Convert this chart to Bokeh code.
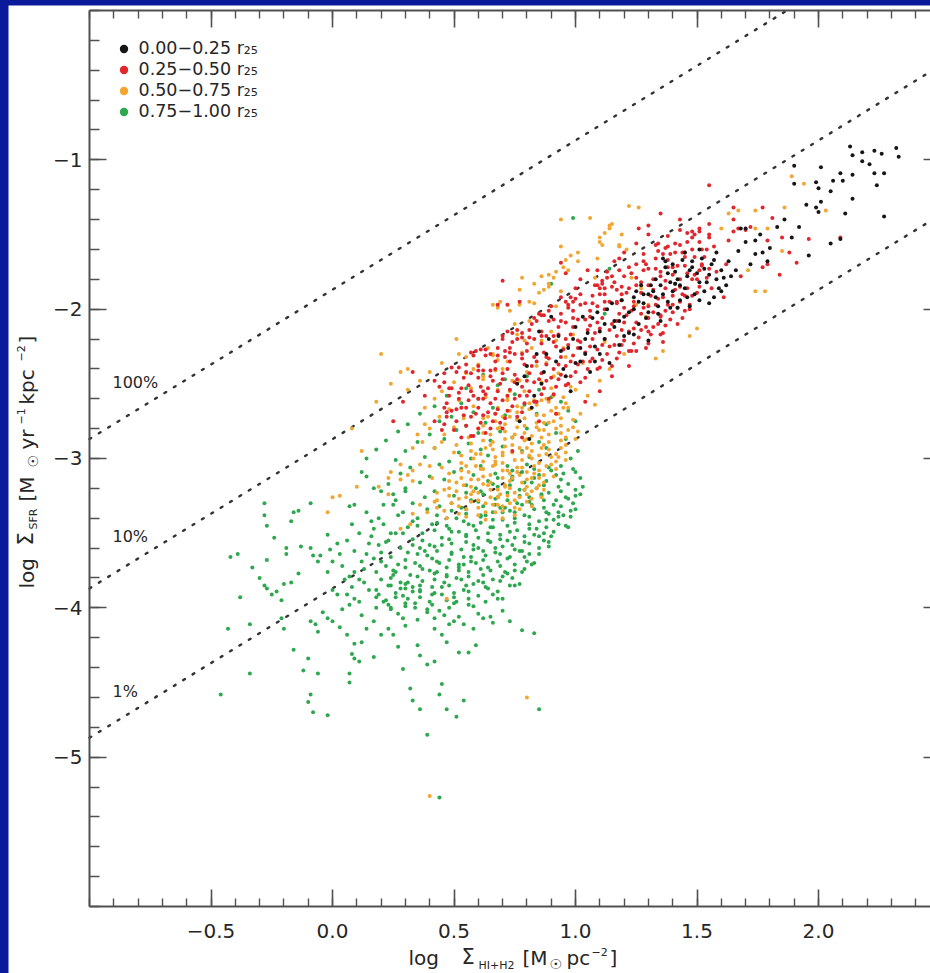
import math
from bokeh.plotting import figure
from bokeh.models import Range1d, LinearAxis, FixedTicker, Label, Legend, LegendItem
from bokeh.layouts import column
from bokeh.embed import file_html
from bokeh.resources import INLINE

# ---------------- data ----------------
bin_labels = ["0.00\u22120.25 r\u2082\u2085", "0.25\u22120.50 r\u2082\u2085",
              "0.50\u22120.75 r\u2082\u2085", "0.75\u22121.00 r\u2082\u2085"]
bin_colors = ["#161616", "#e2262c", "#f2a630", "#2ea84e"]

x_tick_values = [-0.5, 0.0, 0.5, 1.0, 1.5, 2.0]
x_tick_labels = ["\u22120.5", "0.0", "0.5", "1.0", "1.5", "2.0"]
y_tick_values = [-5, -4, -3, -2, -1]
y_tick_labels = ["\u22125", "\u22124", "\u22123", "\u22122", "\u22121"]

sfe_levels = [1.0, 0.1, 0.01]
sfe_names = ["100%", "10%", "1%"]
sfe_offset = -1.87          # log SFR at log gas = 0 for 100 %

black_pts = [
(1.90,-1.04),(2.01,-1.05),(2.13,-0.91),(2.14,-0.97),(2.18,-0.95),(2.23,-0.94),(2.26,-0.96),(2.21,-1.03),(2.32,-0.92),(2.33,-0.98),
(2.09,-1.09),(2.10,-1.14),(2.14,-1.10),(2.23,-1.09),(2.27,-1.09),(2.24,-1.17),(1.99,-1.15),(2.00,-1.19),(2.05,-1.21),(1.90,-1.16),
(2.01,-1.28),(1.99,-1.32),(2.00,-1.35),(2.14,-1.26),(2.11,-1.36),(2.27,-1.38),(1.92,-1.45),(1.89,-1.52),(2.05,-1.56),(2.09,-1.53),
(1.96,-1.64),(1.70,-1.46),(1.74,-1.63),(1.77,-1.62),(1.80,-1.59),(1.79,-1.68),(1.74,-1.54),(1.67,-1.61),(1.68,-1.46),
(1.36,-1.66),(1.40,-1.70),(1.44,-1.67),(1.48,-1.72),(1.52,-1.66),(1.56,-1.70),(1.60,-1.74),(1.38,-1.76),(1.42,-1.80),(1.46,-1.78),
(1.50,-1.76),(1.54,-1.82),(1.58,-1.80),(1.62,-1.84),(1.35,-1.84),(1.40,-1.88),(1.45,-1.86),(1.49,-1.90),(1.53,-1.88),(1.57,-1.92),
(1.33,-1.92),(1.38,-1.95),(1.43,-1.94),(1.47,-1.98),(1.63,-1.68),(1.58,-1.62),(1.51,-1.60),(1.45,-1.62),
(0.88,-2.30),(0.93,-2.18),(0.97,-2.26),(1.00,-2.12),(1.04,-2.20),(1.07,-2.06),(1.10,-2.15),(1.13,-2.00),(1.16,-2.08),(1.19,-1.94),
(1.22,-2.02),(1.25,-1.88),(1.28,-1.96),(1.31,-1.84),(1.02,-2.35),(1.06,-2.42),(1.10,-2.30),(1.14,-2.36),(1.18,-2.24),(1.22,-2.16),
(0.95,-2.40),(0.90,-2.05),(0.85,-2.15),(1.26,-2.10),(1.30,-2.02),(1.34,-1.98),(0.80,-2.38),(0.76,-2.50),(0.83,-2.58),(0.98,-2.55),
(1.02,-2.26),(1.08,-2.35),(1.24,-2.17),(1.30,-2.21),(1.35,-2.08),(1.39,-1.99),(1.41,-1.83),(1.30,-1.90),(0.77,-2.75),(0.81,-2.87),(0.82,-2.66),
(1.37,-1.72),(1.41,-1.75),(1.47,-1.74),(1.51,-1.82),(1.55,-1.77),(1.59,-1.86),(1.61,-1.79),(1.43,-1.84),(1.39,-1.82),(1.36,-1.90),
(1.46,-1.92),(1.51,-1.94),(1.55,-1.96),(1.42,-1.99),(1.32,-1.88),(1.28,-1.90),(1.26,-1.95),(1.34,-2.03),(1.20,-2.05),(1.16,-2.12),
(1.12,-2.20),(1.08,-2.25),(1.04,-2.30),(1.00,-2.36),(0.96,-2.45),(0.92,-2.35),(0.87,-2.42),(1.12,-2.10),(1.20,-2.18),(1.24,-2.00),
(1.29,-2.06),(1.70,-1.55),(1.72,-1.70),(1.66,-1.74),(1.76,-1.50),(1.83,-1.45),(1.86,-1.40),(1.95,-1.30),(2.06,-1.14),(2.18,-1.01),
(1.05,-2.16),(1.09,-2.02),(1.15,-1.96),(1.18,-2.08),(1.24,-1.92),(1.27,-1.84),(1.33,-1.80),(1.37,-1.68),(1.48,-1.68),(1.53,-1.73),
(1.57,-1.67),(1.60,-1.88),(1.64,-1.78),(0.94,-2.28),(0.99,-2.20),(1.03,-2.05),(0.89,-2.20),(0.84,-2.30),(0.79,-2.45),(0.86,-2.50),
]

red_pts = [
(0.45,-2.81),(0.46,-2.66),(0.44,-2.52),(0.47,-2.72),(0.48,-2.58),(0.46,-2.43),(0.50,-2.81),(0.51,-2.67),(0.49,-2.53),(0.52,-2.39),
(0.53,-2.86),(0.54,-2.71),(0.52,-2.56),(0.55,-2.42),(0.55,-2.78),(0.56,-2.61),(0.54,-2.46),(0.57,-2.29),(0.58,-2.85),(0.59,-2.70),
(0.57,-2.55),(0.60,-2.41),(0.59,-2.28),(0.61,-2.76),(0.62,-2.60),(0.60,-2.46),(0.63,-2.31),(0.63,-2.83),(0.64,-2.69),(0.62,-2.55),
(0.65,-2.41),(0.61,-2.27),(0.66,-2.75),(0.67,-2.60),(0.65,-2.45),(0.68,-2.31),(0.68,-2.67),(0.69,-2.50),(0.67,-2.35),(0.70,-2.18),
(0.71,-2.73),(0.72,-2.58),(0.70,-2.43),(0.73,-2.29),(0.72,-2.15),(0.74,-2.65),(0.75,-2.49),(0.73,-2.35),(0.76,-2.20),(0.76,-2.72),
(0.77,-2.58),(0.75,-2.44),(0.78,-2.30),(0.74,-2.16),(0.79,-2.63),(0.80,-2.48),(0.78,-2.33),(0.81,-2.19),(0.81,-2.55),(0.82,-2.38),
(0.80,-2.23),(0.83,-2.06),(0.84,-2.62),(0.85,-2.47),(0.83,-2.32),(0.86,-2.18),(0.85,-2.03),(0.87,-2.53),(0.88,-2.37),(0.86,-2.23),
(0.89,-2.08),(0.89,-2.60),(0.90,-2.46),(0.88,-2.32),(0.91,-2.18),(0.87,-2.04),(0.92,-2.52),(0.93,-2.37),(0.91,-2.22),(0.94,-2.08),
(0.94,-2.44),(0.95,-2.27),(0.93,-2.12),(0.96,-1.95),(0.97,-2.50),(0.98,-2.35),(0.96,-2.20),(0.99,-2.06),(0.98,-1.92),(1.00,-2.42),
(1.01,-2.26),(0.99,-2.12),(1.02,-1.97),(1.02,-2.49),(1.03,-2.35),(1.01,-2.21),(1.04,-2.07),(1.00,-1.93),(1.05,-2.40),(1.06,-2.25),
(1.06,-2.11),(1.07,-1.96),(1.07,-2.33),(1.08,-2.16),(1.06,-2.01),(1.09,-1.84),(1.10,-2.39),(1.11,-2.24),(1.09,-2.09),(1.12,-1.95),
(1.11,-1.81),(1.13,-2.30),(1.14,-2.14),(1.12,-2.00),(1.15,-1.85),(1.15,-2.38),(1.16,-2.24),(1.17,-2.08),(1.17,-1.96),(1.16,-1.82),
(1.18,-2.29),(1.19,-2.14),(1.20,-1.99),(1.19,-1.85),(1.20,-2.21),(1.21,-2.04),(1.21,-1.89),(1.22,-1.72),(1.23,-2.28),(1.24,-2.13),
(1.24,-1.98),(1.25,-1.84),(1.25,-1.70),(1.26,-2.19),(1.27,-2.03),(1.27,-1.89),(1.28,-1.74),(1.29,-2.26),(1.29,-2.12),(1.30,-1.98),
(1.30,-1.84),(1.29,-1.70),(1.31,-2.17),(1.32,-2.02),(1.32,-1.87),(1.33,-1.73),(1.34,-2.10),(1.34,-1.93),(1.35,-1.78),(1.34,-1.61),
(1.36,-2.16),(1.37,-2.01),(1.37,-1.86),(1.38,-1.72),(1.38,-1.58),(1.39,-2.07),(1.40,-1.91),(1.40,-1.77),(1.41,-1.62),(1.42,-1.99),
(1.43,-1.85),(1.42,-1.71),(1.43,-1.57),(1.44,-2.06),(1.45,-1.91),(1.46,-1.76),(1.45,-1.62),(1.47,-1.97),(1.48,-1.80),(1.49,-1.65),
(1.48,-1.48),(1.50,-1.89),(1.51,-1.74),(1.52,-1.60),(1.51,-1.46),(1.54,-1.79),(1.53,-1.65),(1.55,-1.50),
(0.46,-2.77),(0.47,-2.63),(0.46,-2.49),(0.49,-2.68),(0.48,-2.53),(0.49,-2.39),(0.51,-2.75),(0.52,-2.60),(0.51,-2.42),(0.55,-2.66),
(0.56,-2.51),(0.55,-2.37),(0.57,-2.85),(0.57,-2.72),(0.58,-2.58),(0.57,-2.43),(0.58,-2.31),(0.60,-2.80),(0.60,-2.66),(0.61,-2.52),
(0.60,-2.38),(0.62,-2.71),(0.63,-2.57),(0.62,-2.41),(0.63,-2.27),(0.65,-2.80),(0.65,-2.63),(0.66,-2.48),(0.65,-2.30),(0.67,-2.70),
(0.68,-2.55),(0.67,-2.40),(0.68,-2.26),(0.69,-2.76),(0.70,-2.61),(0.70,-2.47),(0.71,-2.32),(0.70,-2.20),(0.72,-2.68),(0.73,-2.54),
(0.72,-2.40),(0.73,-2.26),(0.75,-2.60),(0.76,-2.47),(0.75,-2.30),(0.76,-2.14),(0.78,-2.69),(0.78,-2.52),(0.79,-2.37),(0.78,-2.19),
(0.80,-2.58),(0.81,-2.43),(0.80,-2.28),(0.81,-2.14),(0.83,-2.62),(0.83,-2.49),(0.84,-2.35),(0.83,-2.20),(0.84,-2.08),(0.86,-2.57),
(0.86,-2.43),(0.87,-2.29),(0.86,-2.15),(0.88,-2.48),(0.89,-2.33),(0.88,-2.18),(0.89,-2.01),(0.91,-2.57),(0.91,-2.40),(0.92,-2.25),
(0.91,-2.07),(0.93,-2.47),(0.94,-2.32),(0.93,-2.17),(0.94,-2.03),(0.96,-2.51),(0.96,-2.38),(0.97,-2.24),(0.96,-2.09),(0.97,-1.97),
(0.98,-2.45),(0.99,-2.31),(0.98,-2.17),(0.99,-2.01),(1.01,-2.37),(1.02,-2.22),(1.01,-2.07),(1.02,-1.90),(1.04,-2.46),(1.04,-2.29),
(1.05,-2.14),(1.04,-1.96),(1.06,-2.35),(1.07,-2.20),(1.06,-2.05),(1.07,-1.91),(1.09,-2.40),(1.09,-2.27),(1.10,-2.13),(1.09,-1.98),
(1.10,-1.86),(1.11,-2.34),(1.12,-2.20),(1.11,-2.06),(1.12,-1.90),(1.14,-2.25),(1.15,-2.10),(1.14,-1.95),(1.15,-1.78),(1.17,-2.33),
(1.17,-2.18),(1.18,-2.03),(1.17,-1.87),(1.19,-2.24),(1.20,-2.09),(1.19,-1.94),(1.20,-1.78),(1.22,-2.28),(1.22,-2.15),(1.23,-2.01),
(1.22,-1.86),(1.23,-1.76),(1.24,-2.23),(1.25,-2.09),(1.24,-1.95),(1.25,-1.79),(1.27,-2.14),(1.28,-1.99),(1.27,-1.82),(1.28,-1.68),
(1.30,-2.23),(1.30,-2.06),(1.31,-1.91),(1.30,-1.73),(1.32,-2.12),(1.33,-1.97),(1.32,-1.80),(1.33,-1.66),(1.35,-2.17),(1.35,-2.04),
(1.36,-1.92),(1.35,-1.75),(1.36,-1.63),(1.37,-2.11),(1.38,-1.97),(1.37,-1.81),(1.38,-1.67),(1.40,-2.02),(1.41,-1.87),(1.40,-1.72),
(1.41,-1.56),(1.43,-1.95),(1.43,-1.80),(1.44,-1.62),(1.45,-2.01),(1.46,-1.86),(1.45,-1.71),(1.46,-1.55),(1.48,-1.91),(1.49,-1.77),
(1.48,-1.60),(1.49,-1.50),(1.51,-1.85),(1.52,-1.71),(1.51,-1.55),(1.55,-1.73),(1.54,-1.60),
(0.47,-2.69),(0.53,-2.66),(0.60,-2.60),(0.64,-2.53),(0.53,-2.53),(0.33,-2.42),(0.42,-2.75),(0.25,-2.75),(0.70,-1.81),(1.09,-1.74),(1.11,-1.83),
(1.12,-1.86),(1.10,-1.90),(1.13,-1.79),(1.18,-1.66),(1.18,-1.74),(1.19,-1.90),(1.17,-1.95),(0.94,-1.69),(0.96,-1.76),(0.68,-1.97),(0.72,-1.97),
(0.77,-1.95),(0.97,-1.99),(0.99,-1.95),(1.55,-1.17),(1.35,-1.36),(1.43,-1.40),(1.65,-1.32),(1.77,-1.32),(1.65,-1.40),(1.67,-1.46),(1.70,-1.47),
(1.72,-1.45),(1.81,-1.39),(1.79,-1.54),(1.85,-1.52),(1.88,-1.62),(1.91,-1.69),(1.96,-1.53),(2.09,-1.52),(1.77,-1.72),(1.79,-1.70),(1.84,-1.77),
(1.61,-1.92),(1.26,-1.46),(1.30,-1.44),(1.43,-1.47),(1.48,-1.52),(1.51,-1.48),(1.55,-1.43),(1.55,-1.52),(1.57,-1.58),(1.63,-1.54),(1.65,-1.48),
(1.34,-1.56),(1.37,-1.59),(1.39,-1.63),(0.29,-2.62),(0.38,-2.58),(0.42,-2.48),(0.70,-2.80),(0.78,-2.86),(0.85,-2.75),(0.92,-2.70),(0.74,-2.95),
(1.45,-1.65),(1.52,-1.70),(1.58,-1.75),(1.50,-1.80),(1.56,-1.86),(1.62,-1.70),(1.68,-1.78),(1.44,-1.90),(1.40,-1.97),(1.47,-2.00),(1.35,-2.05),
(1.42,-2.10),(1.30,-2.15),(1.36,-2.22),(1.25,-2.28),(1.22,-2.38),(1.15,-2.45),(1.10,-2.55),(1.04,-2.62),
(1.30,-1.50),(1.38,-1.51),(1.46,-1.49),(1.25,-1.56),(1.33,-1.57),(1.20,-1.62),(1.28,-1.63),(1.16,-1.68),(1.05,-1.74),(1.13,-1.75),
(1.02,-1.80),(1.08,-1.84),(1.00,-1.86),(0.94,-1.92),(0.90,-1.98),(0.86,-2.04),(0.82,-2.10),(0.78,-2.16),(0.74,-2.22),(0.71,-2.28),
]

orange_pts = [
(0.47,-3.40),(0.55,-3.39),(0.63,-3.41),(0.70,-3.40),(0.52,-3.37),(0.60,-3.38),(0.67,-3.36),(0.75,-3.38),(0.46,-3.35),(0.55,-3.34),
(0.63,-3.36),(0.70,-3.35),(0.77,-3.34),(0.43,-3.33),(0.52,-3.32),(0.60,-3.33),(0.68,-3.31),(0.75,-3.33),(0.82,-3.32),(0.49,-3.30),
(0.57,-3.29),(0.66,-3.31),(0.73,-3.30),(0.80,-3.29),(0.43,-3.28),(0.52,-3.27),(0.60,-3.28),(0.68,-3.26),(0.75,-3.28),(0.82,-3.27),
(0.48,-3.25),(0.57,-3.24),(0.65,-3.26),(0.72,-3.25),(0.80,-3.24),(0.86,-3.26),(0.43,-3.23),(0.51,-3.22),(0.60,-3.23),(0.68,-3.21),
(0.75,-3.23),(0.82,-3.22),(0.48,-3.20),(0.57,-3.19),(0.65,-3.21),(0.73,-3.20),(0.80,-3.19),(0.87,-3.21),(0.54,-3.18),(0.62,-3.17),
(0.71,-3.18),(0.78,-3.16),(0.85,-3.18),(0.48,-3.15),(0.57,-3.14),(0.65,-3.16),(0.73,-3.15),(0.80,-3.14),(0.87,-3.16),(0.53,-3.13),
(0.62,-3.12),(0.70,-3.13),(0.77,-3.11),(0.85,-3.13),(0.91,-3.12),(0.48,-3.10),(0.56,-3.09),(0.65,-3.11),(0.73,-3.10),(0.80,-3.09),
(0.87,-3.11),(0.53,-3.08),(0.62,-3.07),(0.70,-3.08),(0.78,-3.06),(0.85,-3.08),(0.92,-3.07),(0.59,-3.05),(0.67,-3.04),(0.76,-3.06),
(0.83,-3.05),(0.90,-3.04),(0.53,-3.03),(0.62,-3.02),(0.70,-3.03),(0.78,-3.01),(0.85,-3.03),(0.92,-3.02),(0.58,-3.00),(0.67,-2.99),
(0.75,-3.01),(0.82,-3.00),(0.90,-2.99),(0.96,-3.01),(0.53,-2.98),(0.61,-2.97),(0.70,-2.98),(0.78,-2.96),(0.85,-2.98),(0.92,-2.97),
(0.57,-2.95),(0.66,-2.94),(0.74,-2.96),(0.82,-2.95),(0.89,-2.94),(0.96,-2.96),(0.63,-2.93),(0.71,-2.92),(0.80,-2.93),(0.87,-2.91),
(0.94,-2.93),(0.57,-2.90),(0.66,-2.89),(0.74,-2.91),(0.82,-2.90),(0.89,-2.89),(0.96,-2.91),(0.62,-2.88),(0.71,-2.87),(0.79,-2.88),
(0.86,-2.86),(0.94,-2.88),(1.00,-2.87),(0.57,-2.85),(0.65,-2.84),(0.74,-2.86),(0.82,-2.85),(0.89,-2.84),(0.96,-2.86),(0.62,-2.83),
(0.71,-2.82),(0.79,-2.83),(0.87,-2.81),(0.94,-2.83),(1.01,-2.82),(0.68,-2.80),(0.76,-2.79),(0.85,-2.81),(0.92,-2.80),(0.99,-2.79),
(0.62,-2.78),(0.71,-2.77),(0.79,-2.78),(0.87,-2.76),(0.94,-2.78),(0.67,-2.75),(0.76,-2.74),(0.84,-2.76),(0.91,-2.75),(0.99,-2.74),
(0.62,-2.73),(0.70,-2.72),(0.79,-2.73),(0.87,-2.71),(0.94,-2.73),(0.67,-2.70),(0.76,-2.69),(0.84,-2.71),(0.92,-2.70),(0.73,-2.68),
(0.81,-2.67),(0.90,-2.68),(0.97,-2.66),(0.76,-2.65),(0.84,-2.64),(0.92,-2.66),(0.81,-2.63),(0.89,-2.62),(0.96,-2.63),
(0.58,-3.22),(0.64,-3.18),(0.69,-3.24),(0.74,-3.13),(0.79,-3.21),(0.83,-3.10),(0.61,-3.07),(0.67,-3.02),(0.72,-3.08),(0.77,-2.93),
(0.81,-2.98),(0.86,-2.93),(0.65,-2.91),(0.70,-2.96),(0.75,-2.84),(0.80,-2.87),(0.84,-2.79),(0.89,-2.76),(0.93,-2.70),(0.69,-2.79),
(0.73,-2.72),(0.78,-2.66),(0.86,-2.61),(0.91,-2.58),(0.60,-3.14),(0.55,-3.26),(0.63,-3.30),(0.70,-3.32),(0.77,-3.26),(0.84,-3.20),
(0.88,-3.05),(0.93,-2.99),(0.97,-2.81),(0.59,-2.97),(0.55,-3.05),(0.51,-3.16),(0.46,-3.21),(0.56,-2.86),(0.60,-2.80),(0.64,-2.72),
(0.68,-2.66),(0.72,-2.61),(0.50,-2.96),(0.45,-3.06),(0.41,-3.13),(0.66,-3.05),(0.71,-3.19),(0.76,-3.09),(0.82,-3.13),(0.88,-2.97),
(0.52,-2.30),(0.66,-2.31),(0.78,-2.29),(0.45,-2.36),(0.60,-2.37),(0.72,-2.35),(0.88,-2.36),(0.40,-2.42),(0.55,-2.43),(0.67,-2.41),
(0.80,-2.42),(0.93,-2.43),(0.36,-2.48),(0.50,-2.49),(0.62,-2.47),(0.74,-2.48),(0.86,-2.49),(0.31,-2.54),(0.45,-2.55),(0.57,-2.53),
(0.68,-2.54),(0.79,-2.55),(0.90,-2.53),(1.00,-2.54),(0.42,-2.60),(0.52,-2.61),(0.63,-2.59),(0.72,-2.60),(0.83,-2.61),(0.95,-2.59),
(0.38,-2.66),(0.48,-2.67),(0.58,-2.65),(0.44,-2.72),(0.54,-2.73),(0.50,-2.79),(0.46,-2.84),(0.51,-2.91),
(0.94,-1.40),(1.06,-1.39),(1.15,-1.43),(1.14,-1.46),(1.19,-1.50),(1.22,-1.31),(0.94,-1.58),(1.10,-1.55),(1.18,-1.57),(1.01,-1.68),(0.96,-1.67),(0.95,-1.72),
(0.97,-1.74),(0.92,-1.75),(0.78,-1.79),(0.77,-1.87),(0.85,-1.89),(0.87,-1.87),(0.89,-1.85),(0.81,-1.95),(0.83,-1.96),(0.77,-1.97),(0.68,-1.99),(1.26,-1.32),
(1.89,-1.11),(1.94,-1.16),(2.03,-1.34),(1.74,-1.34),(1.86,-1.32),(1.63,-1.36),(1.67,-1.34),(1.60,-1.46),(1.74,-1.46),(1.79,-1.46),(1.71,-1.74),(1.74,-1.88),
(1.78,-1.88),(1.85,-1.61),(1.50,-2.13),(1.47,-2.18),(1.36,-2.28),(1.33,-2.33),(1.10,-1.52),(1.12,-1.49),(1.14,-1.44),(1.18,-1.58),(1.21,-1.60),(1.11,-1.57),
(1.09,-1.66),(1.08,-1.79),(1.23,-1.79),(1.27,-1.86),(1.25,-1.97),(1.30,-1.97),(1.29,-2.05),(0.28,-2.42),(0.31,-2.40),(0.51,-2.20),(0.64,-2.26),(0.66,-2.30),
(0.68,-2.34),(0.86,-1.78),(0.89,-1.77),(0.91,-1.79),(0.98,-1.64),(1.01,-1.62),(0.83,-1.83),(0.89,-1.83),(0.94,-1.88),(0.92,-1.98),(0.66,-1.97),(0.69,-1.95),
(0.73,-2.01),(0.85,-2.03),(0.81,-2.08),(0.75,-2.10),(0.76,-2.17),(0.79,-2.21),(0.82,-2.26),(0.86,-2.21),(0.90,-2.15),(0.92,-2.21),(0.95,-2.26),(0.99,-2.17),
(0.38,-2.77),(0.40,-2.80),(0.35,-2.84),(0.37,-2.89),(0.33,-2.93),(0.42,-2.93),(0.45,-2.89),(0.24,-3.09),(0.28,-3.04),(0.31,-3.11),(0.33,-3.15),(0.23,-3.24),
(0.00,-3.26),(0.03,-3.25),(-0.02,-3.36),(0.10,-3.19),(0.19,-3.19),(0.23,-3.13),(0.28,-3.14),(0.33,-3.08),(0.36,-3.04),(0.40,-3.05),(0.36,-3.31),(0.39,-3.36),
(0.42,-3.29),(0.33,-3.37),(0.32,-3.44),(0.28,-3.47),(0.47,-3.94),(0.80,-4.60),(0.40,-5.26),(0.20,-2.30),(0.24,-2.50),(0.18,-2.62),(0.08,-2.80),(0.12,-2.95),
(0.62,-2.45),(0.70,-2.40),(0.77,-2.48),(0.84,-2.38),(0.91,-2.45),(0.98,-2.52),(1.05,-2.58),(1.10,-2.48),(0.88,-2.60),(0.95,-2.66),(1.02,-2.70),(1.08,-2.64),
(0.73,-2.55),(1.14,-2.40),(1.20,-2.30),(1.03,-2.36),(0.96,-2.32),(1.12,-2.22),(0.58,-2.40),(0.55,-2.32),
]

green_pts = [
(0.62,-2.44),(0.71,-2.47),(0.80,-2.45),(0.55,-2.53),(0.68,-2.51),(0.85,-2.54),(0.47,-2.58),(0.60,-2.60),(0.75,-2.57),(0.90,-2.59),
(0.42,-2.65),(0.53,-2.63),(0.66,-2.66),(0.79,-2.64),(0.94,-2.62),(0.36,-2.70),(0.49,-2.72),(0.58,-2.69),(0.71,-2.71),(0.84,-2.70),(0.97,-2.68),
(0.31,-2.77),(0.44,-2.75),(0.55,-2.78),(0.63,-2.76),(0.76,-2.74),(0.88,-2.77),(1.00,-2.75),(0.27,-2.82),(0.40,-2.84),(0.51,-2.81),(0.60,-2.83),(0.69,-2.82),(0.80,-2.80),(0.92,-2.83),
(0.22,-2.88),(0.35,-2.89),(0.46,-2.87),(0.56,-2.90),(0.65,-2.88),(0.74,-2.86),(0.85,-2.89),(0.96,-2.87),(0.18,-2.94),(0.30,-2.95),(0.42,-2.93),(0.52,-2.96),(0.61,-2.94),(0.70,-2.92),(0.78,-2.95),(0.88,-2.93),(1.01,-2.95),
(0.14,-3.00),(0.26,-3.01),(0.38,-2.99),(0.48,-3.02),(0.57,-3.00),(0.64,-2.98),(0.81,-2.99),(0.98,-3.00),(0.32,-3.06),(0.44,-3.04),(0.53,-3.07),(0.61,-3.05),
(0.28,-3.10),(0.40,-3.12),(0.50,-3.09),(0.58,-3.11),(0.36,-3.16),(0.46,-3.14),(0.30,-3.20),(0.42,-3.22),(0.38,-3.26),(0.33,-3.30),(0.44,-3.32),(0.29,-3.36),(0.39,-3.34),
(0.35,-3.40),(0.31,-3.46),(0.41,-3.44),(0.26,-3.50),(0.22,-3.56),(0.33,-3.54),(0.28,-3.60),(0.24,-3.66),(0.35,-3.64),(0.26,-3.76),
(0.72,-3.05),(0.80,-3.04),(0.89,-3.06),(0.94,-3.05),(0.74,-3.08),(0.83,-3.07),(0.90,-3.08),(0.99,-3.07),(0.67,-3.10),(0.78,-3.09),
(0.85,-3.11),(0.95,-3.10),(1.00,-3.09),(0.68,-3.13),(0.74,-3.12),(0.83,-3.13),(0.92,-3.11),(1.02,-3.13),(0.64,-3.15),(0.74,-3.14),
(0.79,-3.16),(0.88,-3.15),(0.94,-3.14),(0.55,-3.18),(0.66,-3.17),(0.73,-3.18),(0.82,-3.16),(0.87,-3.18),(0.97,-3.17),(1.03,-3.19),
(0.59,-3.20),(0.68,-3.19),(0.77,-3.21),(0.84,-3.20),(0.93,-3.19),(1.00,-3.21),(0.55,-3.23),(0.61,-3.22),(0.72,-3.23),(0.79,-3.21),
(0.89,-3.23),(0.94,-3.22),(1.02,-3.24),(0.50,-3.25),(0.62,-3.24),(0.68,-3.26),(0.77,-3.25),(0.86,-3.24),(0.96,-3.26),(1.00,-3.25),
(0.57,-3.28),(0.67,-3.27),(0.72,-3.28),(0.81,-3.26),(0.87,-3.28),(0.97,-3.27),(0.49,-3.30),(0.60,-3.29),(0.67,-3.31),(0.76,-3.30),
(0.81,-3.29),(0.91,-3.31),(0.99,-3.30),(0.53,-3.33),(0.62,-3.32),(0.71,-3.33),(0.78,-3.31),(0.87,-3.33),(0.94,-3.32),(1.00,-3.34),
(0.49,-3.35),(0.55,-3.34),(0.66,-3.36),(0.73,-3.35),(0.83,-3.34),(0.88,-3.36),(0.98,-3.35),(0.43,-3.38),(0.55,-3.37),(0.61,-3.38),
(0.70,-3.36),(0.79,-3.38),(0.89,-3.37),(0.93,-3.39),(0.51,-3.40),(0.61,-3.39),(0.66,-3.41),(0.75,-3.40),(0.81,-3.39),(0.91,-3.41),
(0.43,-3.43),(0.54,-3.42),(0.61,-3.43),(0.70,-3.41),(0.75,-3.43),(0.85,-3.42),(0.93,-3.44),(0.47,-3.45),(0.56,-3.44),(0.65,-3.46),
(0.72,-3.45),(0.81,-3.44),(0.88,-3.46),(0.96,-3.45),(0.42,-3.48),(0.48,-3.47),(0.59,-3.48),(0.66,-3.46),(0.76,-3.48),(0.81,-3.47),
(0.91,-3.49),(0.37,-3.50),(0.49,-3.49),(0.55,-3.51),(0.64,-3.50),(0.73,-3.49),(0.83,-3.51),(0.87,-3.50),(0.45,-3.53),(0.55,-3.52),
(0.60,-3.53),(0.69,-3.51),(0.75,-3.53),(0.85,-3.52),(0.37,-3.55),(0.48,-3.54),(0.55,-3.56),(0.64,-3.55),(0.69,-3.54),(0.79,-3.56),
(0.87,-3.55),(0.40,-3.58),(0.49,-3.57),(0.58,-3.58),(0.65,-3.56),(0.74,-3.58),(0.81,-3.57),(0.89,-3.59),(0.36,-3.60),(0.42,-3.59),
(0.53,-3.61),(0.60,-3.60),(0.70,-3.59),(0.75,-3.61),(0.85,-3.60),(0.31,-3.63),(0.43,-3.62),(0.49,-3.63),(0.58,-3.61),(0.67,-3.63),
(0.77,-3.62),(0.81,-3.64),(0.39,-3.65),(0.49,-3.64),(0.54,-3.66),(0.63,-3.65),(0.69,-3.64),(0.79,-3.66),(0.30,-3.68),(0.41,-3.67),
(0.48,-3.68),(0.57,-3.66),(0.62,-3.68),(0.72,-3.67),(0.80,-3.69),(0.34,-3.70),(0.43,-3.69),(0.52,-3.71),(0.59,-3.70),(0.68,-3.69),
(0.75,-3.71),(0.83,-3.70),(0.30,-3.73),(0.36,-3.72),(0.47,-3.73),(0.54,-3.71),(0.64,-3.73),(0.69,-3.72),(0.79,-3.74),(0.25,-3.75),
(0.37,-3.74),(0.43,-3.76),(0.52,-3.75),(0.61,-3.74),(0.71,-3.76),(0.75,-3.75),(0.32,-3.78),(0.42,-3.77),(0.47,-3.78),(0.56,-3.76),
(0.62,-3.78),(0.72,-3.77),(0.24,-3.80),(0.35,-3.79),(0.42,-3.81),(0.51,-3.80),(0.56,-3.79),(0.66,-3.81),(0.74,-3.80),(0.28,-3.83),
(0.37,-3.82),(0.46,-3.83),(0.53,-3.81),(0.62,-3.83),(0.69,-3.82),(0.77,-3.84),(0.24,-3.85),(0.30,-3.84),(0.41,-3.86),(0.48,-3.85),
(0.58,-3.84),(0.63,-3.86),(0.73,-3.85),(0.18,-3.88),(0.30,-3.87),(0.36,-3.88),(0.45,-3.86),(0.54,-3.88),(0.64,-3.87),(0.68,-3.89),
(0.26,-3.90),(0.36,-3.89),(0.41,-3.91),(0.50,-3.90),(0.56,-3.89),(0.66,-3.91),(0.18,-3.93),(0.29,-3.92),(0.36,-3.93),(0.45,-3.91),
(0.50,-3.93),(0.60,-3.92),(0.68,-3.94),(0.22,-3.95),(0.31,-3.94),(0.40,-3.96),(0.47,-3.95),(0.56,-3.94),(0.63,-3.96),(0.23,-3.98),
(0.34,-3.97),(0.41,-3.98),(0.51,-3.96),(0.56,-3.98),(0.24,-4.00),(0.30,-3.99),(0.39,-4.01),(0.48,-4.00),(0.58,-3.99),
(0.88,-3.41),(0.84,-3.47),(0.79,-3.52),(0.72,-3.55),(0.67,-3.60),(0.62,-3.62),(0.57,-3.69),(0.52,-3.73),(0.47,-3.79),(0.44,-3.70),
(0.40,-3.75),(0.38,-3.62),(0.45,-3.58),(0.52,-3.49),(0.58,-3.45),(0.63,-3.38),(0.69,-3.33),(0.75,-3.36),(0.82,-3.31),(0.86,-3.25),
(0.92,-3.28),(0.95,-3.38),(0.90,-3.52),(0.78,-3.62),(0.73,-3.66),(0.70,-3.79),(0.65,-3.75),(0.60,-3.82),(0.55,-3.85),(0.50,-3.97),
(0.42,-3.90),(0.33,-3.86),(0.27,-3.71),(0.20,-3.63),(0.15,-3.57),(0.11,-3.50),(0.19,-3.40),(0.23,-3.55),(0.29,-3.50),(0.33,-3.42),
(0.16,-3.52),(0.19,-3.58),(0.13,-3.74),(0.18,-3.76),(0.22,-3.72),(0.04,-3.72),(0.08,-3.86),(0.15,-3.88),(0.26,-3.93),(0.30,-3.97),
(0.34,-4.00),(0.12,-4.05),(0.18,-4.00),(0.30,-4.12),(0.35,-4.08),(0.33,-3.58),(0.24,-3.50),(0.06,-3.55),(-0.01,-3.61),(0.16,-3.42),
(0.30,-3.22),(0.26,-3.28),(0.35,-3.45),(0.52,-4.06),(0.60,-4.04),(0.48,-4.11),(0.66,-4.10),(0.44,-4.02),(0.70,-4.02),
(-0.42,-3.66),(-0.39,-3.64),(-0.33,-3.73),(-0.28,-3.30),(-0.28,-3.38),(-0.27,-3.45),(-0.24,-3.53),(-0.27,-3.68),(-0.30,-3.80),(-0.28,-3.85),
(-0.27,-3.87),(-0.38,-3.93),(-0.43,-4.14),(-0.34,-4.11),(-0.34,-4.44),(-0.46,-4.58),(-0.23,-3.89),(-0.21,-3.95),(-0.25,-3.91),(-0.19,-3.64),
(-0.19,-3.60),(-0.20,-3.84),(-0.17,-3.83),(-0.16,-3.36),(-0.14,-3.35),(-0.17,-3.42),(-0.09,-3.30),(-0.14,-3.77),(-0.13,-3.59),(-0.09,-3.60),
(-0.08,-3.65),(-0.06,-3.69),(-0.05,-3.65),(-0.21,-4.07),(-0.20,-4.14),(-0.16,-4.28),(-0.12,-4.42),(-0.10,-4.63),(-0.09,-4.58),(-0.08,-4.70),
(-0.02,-4.72),(-0.06,-4.44),(-0.10,-4.34),(-0.09,-4.09),(-0.07,-4.11),(-0.06,-4.16),(-0.02,-3.51),(0.02,-3.57),(0.03,-3.64),(0.00,-3.69),
(-0.02,-3.76),(0.00,-3.88),(0.02,-3.91),(-0.04,-4.03),(-0.02,-4.07),(0.00,-4.09),(0.04,-4.01),(0.06,-3.91),(0.09,-3.94),(0.07,-3.98),
(0.11,-3.96),(0.05,-3.81),(0.07,-3.79),(0.09,-3.76),(0.11,-3.81),(0.13,-3.83),(0.09,-3.62),(0.12,-3.69),(0.14,-3.64),(0.17,-3.67),
(0.20,-3.69),(0.03,-4.13),(0.06,-4.18),(0.09,-4.24),(0.12,-4.23),(0.08,-4.31),(0.09,-4.34),(0.11,-4.36),(0.07,-4.44),(0.07,-4.50),
(0.17,-4.33),(0.14,-4.14),(0.17,-4.09),(0.20,-4.18),(0.23,-4.14),(0.25,-4.18),(0.19,-3.91),(0.21,-3.96),(0.24,-4.01),(0.27,-4.04),
(0.29,-4.07),(0.20,-3.81),(0.23,-3.85),(0.25,-3.78),(0.28,-3.87),(0.31,-3.83),(0.33,-3.89),(0.36,-3.85),(0.27,-4.26),(0.29,-4.41),
(0.32,-4.54),(0.33,-4.62),(0.36,-4.68),(0.39,-4.85),(0.35,-4.25),(0.36,-4.32),(0.39,-4.38),(0.42,-4.36),(0.45,-4.51),(0.44,-4.58),
(0.47,-4.68),(0.51,-4.73),(0.54,-4.62),(0.42,-4.14),(0.45,-4.18),(0.47,-4.23),(0.52,-4.30),(0.56,-4.30),(0.59,-4.25),(0.39,-4.03),
(0.42,-4.07),(0.46,-4.05),(0.50,-4.09),(0.54,-4.11),(0.58,-4.14),(0.62,-4.07),(0.65,-4.06),(0.73,-4.09),(0.78,-4.15),(0.83,-4.17),
(0.98,-3.39),(0.97,-3.46),(0.93,-3.36),(0.89,-3.56),(0.85,-3.64),(0.82,-3.71),(0.78,-3.76),(0.75,-3.85),(0.70,-3.94),(0.85,-4.68),
(0.44,-5.27),(1.14,-1.73),(1.41,-1.83),(1.12,-2.03),(0.99,-1.39),(0.90,-1.83),(0.12,-3.09),(0.14,-3.12),(0.17,-3.20),(0.20,-3.22),
(0.23,-3.17),(0.25,-3.24),(0.09,-3.31),(0.14,-3.36),(0.21,-3.31),(0.25,-3.31),(0.27,-3.38),(0.17,-3.47),(0.21,-3.44),(0.07,-3.32),(0.08,-3.44),
]

# ---------------- figure ----------------
FONT = "DejaVu Sans"
TXT = "#262626"
AXC = "#505050"
BLUE = "#0a1a9a"

# axis box of the chart (data) and where it lies on the page (pixels)
BOX_X0, BOX_X1, BOX_Y0, BOX_Y1 = -1.0, 2.5, -6.0, 0.0
AX_L, AX_T, PX_PER_X, PX_PER_Y = 89.0, 10.0, 243.0, 149.33
FIG_L, FIG_T, FIG_W, FIG_H = 8, 5, 922, 968


def px2x(px):
    return BOX_X0 + (px - AX_L) / PX_PER_X


def py2y(py):
    return BOX_Y1 - (py - AX_T) / PX_PER_Y


p = figure(width=FIG_W, height=FIG_H,
           x_range=Range1d(px2x(FIG_L), px2x(FIG_L + FIG_W)),
           y_range=Range1d(py2y(FIG_T + FIG_H), py2y(FIG_T)),
           output_backend="svg", toolbar_location=None,
           x_axis_location=None, y_axis_location=None, min_border=0,
           background_fill_color="white", border_fill_color="white", outline_line_color=None)
p.margin = (FIG_T, 0, 0, FIG_L)
p.xgrid.visible = False
p.ygrid.visible = False

x_minor = [round(-1.0 + 0.1 * i, 2) for i in range(36)]
y_minor = [round(-6.0 + 0.2 * i, 2) for i in range(31)]


def make_axis(ticks, minor, loc, bounds, major_in, minor_in, labels=None, standoff=0):
    ax = LinearAxis(ticker=FixedTicker(ticks=ticks, minor_ticks=minor),
                    fixed_location=loc, bounds=bounds)
    ax.axis_line_color = AXC
    ax.axis_line_width = 2
    ax.major_tick_line_color = AXC
    ax.major_tick_line_width = 1.6
    ax.minor_tick_line_color = AXC
    ax.minor_tick_line_width = 1.4
    ax.major_tick_in = major_in
    ax.major_tick_out = 0
    ax.minor_tick_in = minor_in
    ax.minor_tick_out = 0
    if labels is not None:
        ax.major_label_overrides = dict(zip(ticks, labels))
        ax.major_label_text_font = FONT
        ax.major_label_text_font_size = "20px"
        ax.major_label_text_color = TXT
        ax.major_label_standoff = standoff
    else:
        ax.major_label_text_color = None
    return ax


p.add_layout(make_axis(x_tick_values, x_minor, BOX_Y0, (BOX_X0, BOX_X1), 17, 8, x_tick_labels, 18), "below")
p.add_layout(make_axis(x_tick_values, x_minor, BOX_Y1, (BOX_X0, BOX_X1), 17, 8), "above")
p.add_layout(make_axis(y_tick_values, y_minor, BOX_X0, (BOX_Y0, BOX_Y1), 17, 10, y_tick_labels, 7), "left")
p.add_layout(make_axis(y_tick_values, y_minor, BOX_X1, (BOX_Y0, BOX_Y1), 17, 10), "right")

# constant star-formation-efficiency lines, kept inside the axis box
for eff in sfe_levels:
    c = math.log10(eff) + sfe_offset
    x_end = min(BOX_X1, BOX_Y1 - c)
    xs = [BOX_X0, x_end]
    p.line(xs, [x + c for x in xs], line_color="#333333", line_width=2.4,
           line_dash="2 9", line_cap="round")

series = [black_pts, red_pts, orange_pts, green_pts]
renderers = [None] * 4
for idx in [3, 2, 1, 0]:
    pts = series[idx]
    renderers[idx] = p.scatter([q[0] for q in pts], [q[1] for q in pts], size=4.0,
                               fill_color=bin_colors[idx], line_color=None)

# legend: dots centred at page x 123, first row at page y 48, rows 21 px apart
legend = Legend(items=[LegendItem(label=bin_labels[i], renderers=[renderers[i]]) for i in range(4)],
                location=(123 - 12.5 - FIG_L, FIG_H - (48 - 10.5 - FIG_T) - 84),
                orientation="vertical",
                glyph_width=25, glyph_height=21, label_height=21, spacing=0, padding=0, margin=0,
                label_standoff=3, label_text_font=FONT, label_text_font_size="17.5px",
                label_text_color=TXT, background_fill_alpha=0, border_line_color=None)
p.add_layout(legend)


def lab(text, px, py, size, angle=0.0):
    # the rendered glyphs sit about 0.35 em below the requested baseline; compensate
    shift = 0.35 * size
    if angle == 0.0:
        py = py - shift
    else:
        px = px - shift
    p.add_layout(Label(x=px2x(px), y=py2y(py), text=text, text_font=FONT,
                       text_font_size=f"{size}px", text_color=TXT,
                       text_baseline="alphabetic", text_align="left", angle=angle))


# efficiency labels
for name, py in zip(sfe_names, [388, 542, 697]):
    lab(name, 112, py, 16)

# x-axis title pieces
for t, px, py, s in [("log", 408, 964, 20), ("\u03a3", 461, 964, 21), ("HI+H2", 478, 969, 11),
                     ("[M", 522, 964, 20), ("\u2609", 549, 968, 14), ("pc", 566, 964, 20),
                     ("\u22122", 591, 955, 11), ("]", 609, 964, 20)]:
    lab(t, px, py, s)

# y-axis title pieces (rotated)
R = math.pi / 2
for t, bx, py, s in [("log", 33, 588, 20), ("\u03a3", 33, 545, 21), ("SFR", 37, 529, 11),
                     ("[M", 33, 501, 20), ("\u2609", 37, 467, 14), ("yr", 33, 449, 20),
                     ("\u22121", 24, 424, 11), ("kpc", 33, 404, 20), ("\u22122", 24, 361, 11),
                     ("]", 33, 343, 20)]:
    lab(t, bx, py, s, angle=R)

layout = column(p, width=930, height=973, styles={"background-color": BLUE})

open("out.html", "w").write(file_html(layout, INLINE))
